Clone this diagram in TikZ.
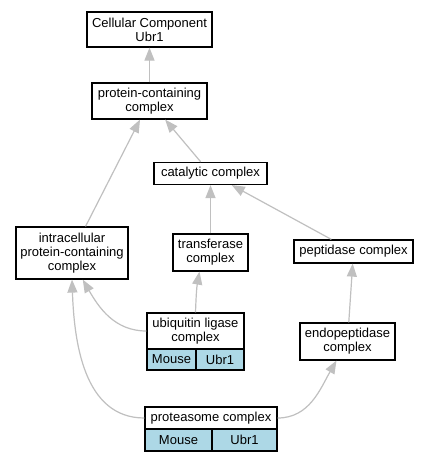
\documentclass[tikz,border=0pt]{standalone}
\usepackage{fontspec}
\setmainfont{Liberation Sans}
\usetikzlibrary{arrows.meta}
\definecolor{edgegray}{HTML}{C0C0C0}
\definecolor{cellblue}{HTML}{ADD8E6}
\begin{document}
\begin{tikzpicture}[x=1pt,y=1pt,
 box/.style={draw=black, line width=1.2pt, fill=white, align=center, inner sep=0pt, font=\fontsize{13}{14}\selectfont},
 cell/.style={box, fill=cellblue},
 edge/.style={draw=edgegray, line width=1.2pt, -{Triangle[length=13pt,width=10pt,fill=edgegray]}}]
\useasboundingbox[fill=white] (0,0) rectangle (428,-461);
\node[box, minimum width=125pt, minimum height=35pt] (cc) at (149.5,-29.5) {Cellular Component\\Ubr1};
\node[box, minimum width=115pt, minimum height=36pt] (pcc) at (149.5,-101) {protein-containing\\complex};
\node[box, minimum width=113pt, minimum height=22pt] (cat) at (210.5,-173.5) {catalytic complex};
\node[box, minimum width=112pt, minimum height=52pt] (intra) at (72,-253) {intracellular\\protein-containing\\complex};
\node[box, minimum width=75pt, minimum height=37pt] (trans) at (210.5,-252.5) {transferase\\complex};
\node[box, minimum width=119pt, minimum height=23pt] (pep) at (353.5,-251.5) {peptidase complex};
\node[box, minimum width=97pt, minimum height=36pt] (ubi) at (195.5,-331) {ubiquitin ligase\\complex};
\node[cell, minimum width=49pt, minimum height=21pt] (ubim) at (171.5,-359.5) {Mouse};
\node[cell, minimum width=48pt, minimum height=21pt] (ubiu) at (220,-359.5) {Ubr1};
\node[box, minimum width=95pt, minimum height=37pt] (endo) at (347.5,-341.5) {endopeptidase\\complex};
\node[box, minimum width=132pt, minimum height=22pt] (prot) at (211,-418) {proteasome complex};
\node[cell, minimum width=67pt, minimum height=22pt] (protm) at (178.5,-440) {Mouse};
\node[cell, minimum width=65pt, minimum height=22pt] (protu) at (244.5,-440) {Ubr1};

\draw[edge] (pcc) -- (cc);
\draw[edge] (cat) -- (pcc);
\draw[edge] (intra) -- (pcc);
\draw[edge] (trans) -- (cat);
\draw[edge] (pep) -- (cat);
\draw[edge] (endo) -- (pep);
\draw[edge] (ubi.north) to[out=88,in=-100] (trans.240);
\draw[edge] (ubi.west) to[out=180,in=-60] (intra.292);
\draw[edge] (prot.west) to[out=180,in=-88] (intra.south);
\draw[edge] (prot.east) to[out=0,in=-120] (endo.240);
\end{tikzpicture}
\end{document}
